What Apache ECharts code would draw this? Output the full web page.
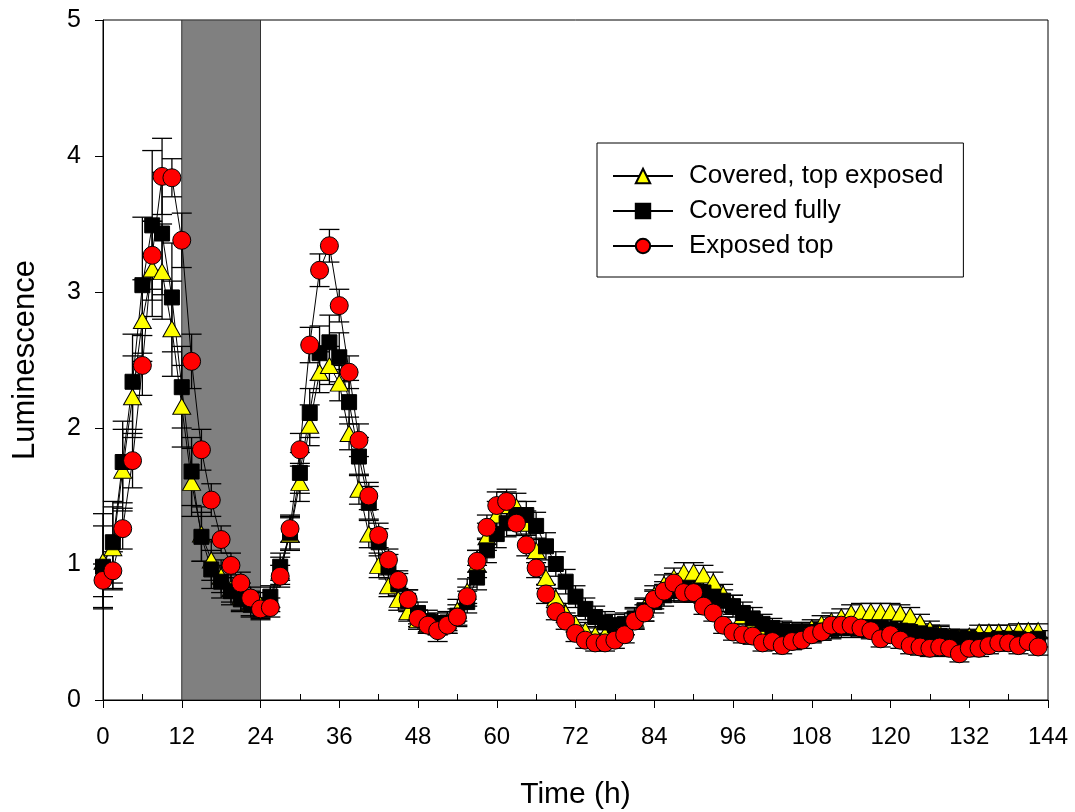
<!DOCTYPE html>
<html>
<head>
<meta charset="utf-8">
<script src="https://cdn.jsdelivr.net/npm/echarts@6/dist/echarts.min.js"></script>
<style>
html,body{margin:0;padding:0;background:#fff;}
#chart{width:1075px;height:812px;}
</style>
</head>
<body>
<div id="chart"></div>
<script>
// ---- data ----
const TIME = [0,1.5,3,4.5,6,7.5,9,10.5,12,13.5,15,16.5,18,19.5,21,22.5,24,25.5,27,28.5,30,31.5,33,34.5,36,37.5,39,40.5,42,43.5,45,46.5,48,49.5,51,52.5,54,55.5,57,58.5,60,61.5,63,64.5,66,67.5,69,70.5,72,73.5,75,76.5,78,79.5,81,82.5,84,85.5,87,88.5,90,91.5,93,94.5,96,97.5,99,100.5,102,103.5,105,106.5,108,109.5,111,112.5,114,115.5,117,118.5,120,121.5,123,124.5,126,127.5,129,130.5,132,133.5,135,136.5,138,139.5,141,142.5];

const COVERED_TOP_EXPOSED = [1.02,1.12,1.69,2.23,2.79,3.17,3.15,2.73,2.16,1.60,1.22,1.03,0.91,0.82,0.76,0.71,0.70,0.74,0.95,1.22,1.60,2.02,2.41,2.46,2.33,1.96,1.55,1.22,0.99,0.84,0.74,0.65,0.59,0.56,0.55,0.58,0.66,0.80,1.00,1.20,1.36,1.43,1.42,1.30,1.10,0.90,0.75,0.64,0.56,0.51,0.48,0.48,0.50,0.54,0.60,0.68,0.77,0.85,0.90,0.94,0.94,0.92,0.87,0.78,0.70,0.62,0.56,0.52,0.48,0.46,0.47,0.50,0.53,0.56,0.58,0.61,0.64,0.65,0.65,0.65,0.65,0.64,0.62,0.57,0.52,0.49,0.47,0.46,0.47,0.50,0.50,0.50,0.50,0.51,0.51,0.51];
const COVERED_TOP_EXPOSED_ERR = [0.35,0.30,0.30,0.30,0.30,0.35,0.35,0.35,0.30,0.25,0.20,0.15,0.12,0.10,0.10,0.09,0.09,0.09,0.10,0.12,0.14,0.15,0.15,0.14,0.13,0.12,0.11,0.10,0.09,0.08,0.08,0.07,0.07,0.07,0.07,0.07,0.08,0.09,0.10,0.10,0.10,0.10,0.10,0.09,0.09,0.08,0.07,0.07,0.06,0.06,0.06,0.06,0.06,0.06,0.07,0.07,0.07,0.07,0.07,0.07,0.07,0.07,0.07,0.07,0.07,0.06,0.06,0.06,0.06,0.06,0.06,0.06,0.06,0.06,0.06,0.06,0.06,0.06,0.06,0.06,0.06,0.06,0.06,0.06,0.06,0.06,0.05,0.05,0.05,0.05,0.05,0.05,0.05,0.05,0.05,0.05];

const COVERED_FULLY = [0.98,1.16,1.75,2.34,3.05,3.49,3.43,2.96,2.30,1.68,1.20,0.96,0.87,0.80,0.74,0.70,0.67,0.76,0.98,1.23,1.67,2.11,2.55,2.63,2.52,2.19,1.79,1.45,1.16,0.98,0.85,0.73,0.64,0.58,0.56,0.57,0.62,0.72,0.90,1.10,1.22,1.30,1.36,1.36,1.28,1.13,1.00,0.87,0.76,0.67,0.61,0.57,0.55,0.56,0.60,0.66,0.72,0.77,0.80,0.81,0.80,0.79,0.76,0.73,0.69,0.64,0.60,0.56,0.53,0.51,0.50,0.50,0.50,0.51,0.52,0.53,0.53,0.53,0.53,0.53,0.52,0.51,0.50,0.49,0.48,0.47,0.46,0.45,0.45,0.44,0.44,0.45,0.45,0.45,0.44,0.45];
const COVERED_FULLY_ERR = [0.30,0.30,0.30,0.35,0.50,0.55,0.45,0.40,0.30,0.25,0.18,0.14,0.12,0.10,0.09,0.09,0.08,0.08,0.10,0.12,0.15,0.18,0.20,0.20,0.18,0.16,0.14,0.12,0.10,0.09,0.08,0.08,0.08,0.08,0.08,0.08,0.08,0.08,0.09,0.09,0.10,0.10,0.10,0.10,0.10,0.10,0.09,0.09,0.08,0.08,0.08,0.08,0.08,0.08,0.08,0.08,0.08,0.08,0.08,0.08,0.08,0.08,0.08,0.08,0.08,0.08,0.08,0.07,0.07,0.07,0.07,0.07,0.07,0.07,0.07,0.07,0.07,0.07,0.07,0.07,0.07,0.07,0.07,0.07,0.07,0.07,0.06,0.06,0.06,0.06,0.06,0.06,0.06,0.06,0.06,0.06];

const EXPOSED_TOP = [0.88,0.95,1.26,1.76,2.46,3.27,3.85,3.84,3.38,2.49,1.84,1.47,1.18,0.99,0.86,0.75,0.67,0.68,0.91,1.26,1.84,2.61,3.16,3.34,2.90,2.41,1.91,1.50,1.21,1.03,0.88,0.74,0.60,0.55,0.51,0.55,0.61,0.76,1.02,1.27,1.43,1.46,1.30,1.14,0.97,0.78,0.65,0.58,0.49,0.44,0.42,0.42,0.44,0.48,0.58,0.64,0.74,0.80,0.86,0.79,0.79,0.69,0.64,0.55,0.50,0.48,0.47,0.42,0.43,0.40,0.43,0.44,0.48,0.50,0.55,0.55,0.55,0.53,0.51,0.45,0.48,0.44,0.40,0.39,0.38,0.39,0.38,0.34,0.38,0.38,0.40,0.42,0.42,0.40,0.43,0.39];
const EXPOSED_TOP_ERR = [0.12,0.14,0.15,0.20,0.22,0.25,0.28,0.14,0.20,0.20,0.15,0.12,0.10,0.09,0.08,0.08,0.07,0.07,0.08,0.10,0.12,0.13,0.12,0.12,0.12,0.12,0.12,0.10,0.09,0.08,0.07,0.07,0.06,0.06,0.08,0.06,0.06,0.07,0.08,0.09,0.10,0.09,0.09,0.08,0.07,0.07,0.06,0.06,0.06,0.06,0.06,0.06,0.06,0.06,0.06,0.06,0.07,0.07,0.07,0.07,0.07,0.06,0.06,0.06,0.06,0.06,0.06,0.06,0.06,0.06,0.06,0.06,0.06,0.06,0.06,0.06,0.06,0.06,0.06,0.06,0.06,0.06,0.06,0.06,0.06,0.06,0.06,0.06,0.06,0.06,0.06,0.06,0.06,0.06,0.06,0.06];

const SERIES_NAMES = ['Covered, top exposed', 'Covered fully', 'Exposed top'];
const DARK_PERIOD = [12, 24];   // shaded interval (h)
const X_TICKS = [0,12,24,36,48,60,72,84,96,108,120,132,144];
const Y_TICKS = [0,1,2,3,4,5];

// ---- chart ----
const chart = echarts.init(document.getElementById('chart'), null, {renderer:'canvas'});

function pairs(vals){ return TIME.map((t,i)=>[t, vals[i]]); }
function errData(vals, errs){ return TIME.map((t,i)=>[t, vals[i]-errs[i], vals[i]+errs[i]]); }

function errRender(params, api){
  const x = api.value(0);
  const lo = api.coord([x, api.value(1)]);
  const hi = api.coord([x, api.value(2)]);
  const w = 10;
  const st = {stroke:'#000', lineWidth:1.3};
  return {type:'group', children:[
    {type:'line', shape:{x1:lo[0], y1:lo[1], x2:hi[0], y2:hi[1]}, style:st},
    {type:'line', shape:{x1:hi[0]-w, y1:hi[1], x2:hi[0]+w, y2:hi[1]}, style:st},
    {type:'line', shape:{x1:lo[0]-w, y1:lo[1], x2:lo[0]+w, y2:lo[1]}, style:st}
  ]};
}

function errSeries(vals, errs){
  return {type:'custom', renderItem: errRender, data: errData(vals, errs),
          encode:{x:0, y:[1,2]}, silent:true, clip:false};
}

function lineSeries(name, vals, symbol, size, color){
  return {type:'line', name:name, data:pairs(vals), symbol:symbol, symbolSize:size,
    showAllSymbol:true,
    lineStyle:{color:'#000', width:1},
    itemStyle:{color:color, borderColor:'#000', borderWidth:1},
    emphasis:{disabled:true}, animation:false};
}

const FONT = 'Liberation Sans, Arial, sans-serif';

const option = {
  animation:false,
  backgroundColor:'#fff',
  grid:{left:103, right:27, top:20, bottom:112, containLabel:false, outerBoundsMode:'none',
        show:true, borderColor:'#000', borderWidth:1, backgroundColor:'transparent'},
  legend:{
    data:SERIES_NAMES,
    orient:'vertical', left:597, top:143,
    padding:[20,20,18,15], itemGap:9, itemWidth:60, itemHeight:18,
    borderColor:'#000', borderWidth:1, backgroundColor:'#fff',
    textStyle:{fontFamily:FONT, fontSize:26, color:'#000', padding:[0,0,0,11]}
  },
  xAxis:{
    type:'value', min:0, max:144, interval:12,
    name:'Time (h)', nameLocation:'middle', nameGap:80,
    nameTextStyle:{fontFamily:FONT, fontSize:30, color:'#000'},
    axisLine:{show:true, onZero:false, lineStyle:{color:'#000', width:1}},
    axisTick:{show:true, length:8, lineStyle:{color:'#000', width:1}},
    minorTick:{show:true, splitNumber:2, length:-6, lineStyle:{color:'#000', width:1}},
    splitLine:{show:false},
    axisLabel:{margin:25, fontFamily:FONT, fontSize:24, color:'#000',
      formatter: v => X_TICKS.includes(v) ? String(v) : ''}
  },
  yAxis:{
    type:'value', min:0, max:5, interval:1,
    name:'Luminescence', nameLocation:'middle', nameGap:62, nameRotate:90,
    nameTextStyle:{fontFamily:FONT, fontSize:31, color:'#000'},
    axisLine:{show:true, lineStyle:{color:'#000', width:1}},
    axisTick:{show:true, length:8, lineStyle:{color:'#000', width:1}},
    splitLine:{show:false},
    axisLabel:{margin:22, fontFamily:FONT, fontSize:25, color:'#000',
      formatter: v => Y_TICKS.includes(v) ? String(v) : ''}
  },
  series:[
    {type:'custom', silent:true, clip:true, data:[DARK_PERIOD],
     encode:{x:[0,1]},
     renderItem:(params, api)=>{
       const a = api.coord([api.value(0), 5]);
       const b = api.coord([api.value(1), 0]);
       return {type:'rect', shape:{x:a[0], y:a[1], width:b[0]-a[0], height:b[1]-a[1]},
               style:{fill:'#808080', stroke:'#333', lineWidth:1}};
     }},
    errSeries(COVERED_TOP_EXPOSED, COVERED_TOP_EXPOSED_ERR),
    lineSeries(SERIES_NAMES[0], COVERED_TOP_EXPOSED, 'triangle', [18,16], '#ffff00'),
    errSeries(COVERED_FULLY, COVERED_FULLY_ERR),
    lineSeries(SERIES_NAMES[1], COVERED_FULLY, 'rect', 15, '#000000'),
    errSeries(EXPOSED_TOP, EXPOSED_TOP_ERR),
    lineSeries(SERIES_NAMES[2], EXPOSED_TOP, 'circle', 18, '#ff0000')
  ]
};
chart.setOption(option);
</script>
</body>
</html>
